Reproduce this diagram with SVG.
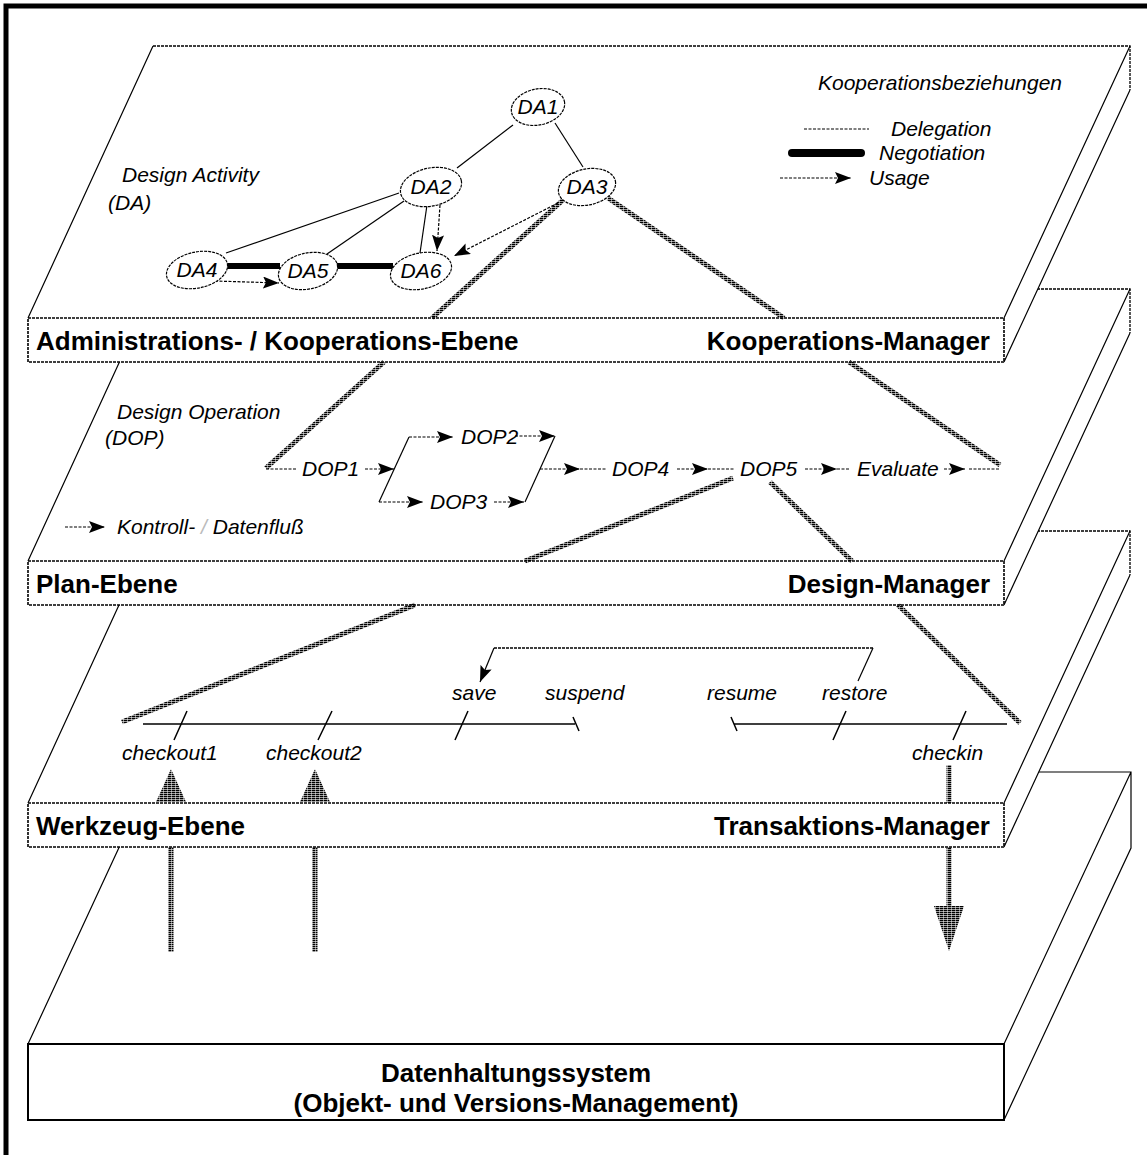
<svg xmlns="http://www.w3.org/2000/svg" width="1147" height="1155" viewBox="0 0 1147 1155">
<style>
.face{fill:#fff;stroke:none}
.dash{fill:none;stroke:#000;stroke-width:1.3;stroke-dasharray:3 1}
.edge{fill:none;stroke:#000;stroke-width:1.2}
.box{fill:#fff;stroke:#000;stroke-width:1.6;stroke-dasharray:3 1}
.sbox{fill:#fff;stroke:#000;stroke-width:2}
.lbl{font-family:"Liberation Sans",Arial,sans-serif;font-weight:bold;font-size:26px;fill:#000}
.it{font-family:"Liberation Sans",Arial,sans-serif;font-style:italic;font-size:21px;fill:#000}
.node{fill:#fff;stroke:#000;stroke-width:1.2;stroke-dasharray:3 1}
.del{fill:none;stroke:#000;stroke-width:1.2}
.use{fill:none;stroke:#000;stroke-width:1.2;stroke-dasharray:3 1.5}
.neg{fill:none;stroke:#000;stroke-width:6}
.hat{fill:none;stroke:url(#hatch);stroke-width:5}
.tl{fill:none;stroke:#000;stroke-width:1.5}
.arr{marker-end:url(#ah)}
</style>
<defs>
<pattern id="hatch" patternUnits="userSpaceOnUse" width="4" height="2">
<rect x="0" y="0" width="3.5" height="1.4" fill="#000"/>
</pattern>
<marker id="ah" markerUnits="userSpaceOnUse" markerWidth="17" markerHeight="12" refX="16" refY="6" orient="auto">
<path d="M0,0 L16,6 L0,12 L3,6 z" fill="#000"/>
</marker>
</defs>

<path d="M6,1155 V6 H1147" fill="none" stroke="#000" stroke-width="5"/>

<!-- Layer 4 -->
<g id="layer-datenhaltung">
<polygon class="face" points="154,772 1131,772 1004,1044 28,1044"/>
<polygon class="face" points="1004,1044 1131,772 1131,848 1004,1120"/>
<path class="edge" d="M154,772 H1131 V848 L1004,1120 M1004,1044 L1131,772 M154,772 L28,1044"/>
<rect class="sbox" x="28" y="1044" width="976" height="76"/>
<text class="lbl" x="516" y="1082" text-anchor="middle">Datenhaltungssystem</text>
<text class="lbl" x="516" y="1112" text-anchor="middle">(Objekt- und Versions-Management)</text>
</g>

<!-- Layer 3 -->
<g id="layer-werkzeug">
<polygon class="face" points="153,531 1130,531 1004,803 28,803"/>
<polygon class="face" points="1004,803 1130,531 1130,575 1004,847"/>
<path class="dash" d="M153,531 H1130 V575"/>
<path class="edge" d="M153,531 L28,803 M1004,803 L1130,531 M1004,847 L1130,575"/>
<rect class="box" x="28" y="803" width="976" height="44"/>
<text class="lbl" x="36" y="835">Werkzeug-Ebene</text>
<text class="lbl" x="990" y="835" text-anchor="end">Transaktions-Manager</text>
</g>

<!-- Layer 2 -->
<g id="layer-plan">
<polygon class="face" points="153,289 1130,289 1004,561 28,561"/>
<polygon class="face" points="1004,561 1130,289 1130,333 1004,605"/>
<path class="dash" d="M153,289 H1130 V333"/>
<path class="edge" d="M153,289 L28,561 M1004,561 L1130,289 M1004,605 L1130,333"/>
<rect class="box" x="28" y="561" width="976" height="44"/>
<text class="lbl" x="36" y="593">Plan-Ebene</text>
<text class="lbl" x="990" y="593" text-anchor="end">Design-Manager</text>
</g>

<!-- Layer 1 -->
<g id="layer-admin">
<polygon class="face" points="153,46 1130,46 1004,318 28,318"/>
<polygon class="face" points="1004,318 1130,46 1130,90 1004,362"/>
<path class="dash" d="M153,46 H1130 V90"/>
<path class="edge" d="M153,46 L28,318 M1004,318 L1130,46 M1004,362 L1130,90"/>
<rect class="box" x="28" y="318" width="976" height="44"/>
<text class="lbl" x="36" y="350">Administrations- / Kooperations-Ebene</text>
<text class="lbl" x="990" y="350" text-anchor="end">Kooperations-Manager</text>
</g>

<!-- Texts on faces -->
<g id="face-texts">
<text class="it" x="122" y="182">Design Activity</text>
<text class="it" x="108" y="210">(DA)</text>
<text class="it" x="818" y="90">Kooperationsbeziehungen</text>
<text class="it" x="117" y="419">Design Operation</text>
<text class="it" x="105" y="445">(DOP)</text>
<text class="it" x="117" y="534">Kontroll- <tspan fill="#bbb">/</tspan> Datenfluß</text>
</g>

<!-- Legend -->
<g id="legend">
<line class="use" x1="804" y1="129" x2="869" y2="129"/>
<text class="it" x="891" y="136">Delegation</text>
<line x1="792" y1="153" x2="861" y2="153" stroke="#000" stroke-width="8" stroke-linecap="round"/>
<text class="it" x="879" y="160">Negotiation</text>
<line class="use arr" x1="780" y1="178" x2="851" y2="178"/>
<text class="it" x="869" y="185">Usage</text>
<line class="use arr" x1="65" y1="527" x2="105" y2="527"/>
</g>

<!-- Connectors -->
<g id="connectors">
<!-- DA relations -->
<line class="del" x1="513" y1="125" x2="457" y2="168"/>
<line class="del" x1="555" y1="123" x2="583" y2="167"/>
<line class="del" x1="399" y1="193" x2="226" y2="253"/>
<line class="del" x1="404" y1="201" x2="327" y2="254"/>
<line class="del" x1="427" y1="205" x2="420" y2="253"/>
<line class="use arr" x1="440" y1="205" x2="437" y2="251"/>
<line class="use arr" x1="558" y1="203" x2="454" y2="256"/>
<line class="use arr" x1="215" y1="281" x2="279" y2="283"/>
<line class="neg" x1="226" y1="266" x2="280" y2="266"/>
<line class="neg" x1="336" y1="266" x2="393" y2="266"/>

<!-- hatched refinement connectors -->
<line class="hat" x1="563" y1="200" x2="432" y2="318"/>
<line class="hat" x1="384" y1="362" x2="266" y2="468"/>
<line class="hat" x1="608" y1="198" x2="784" y2="318"/>
<line class="hat" x1="849" y1="362" x2="1000" y2="465"/>
<line class="hat" x1="733" y1="478" x2="525" y2="561"/>
<line class="hat" x1="415" y1="605" x2="122" y2="722"/>
<line class="hat" x1="770" y1="482" x2="852" y2="561"/>
<line class="hat" x1="898" y1="605" x2="1020" y2="723"/>

<!-- DOP flow -->
<line class="use" x1="266" y1="469" x2="296" y2="469"/>
<line class="use arr" x1="365" y1="469" x2="394" y2="469"/>
<path class="del" d="M409,437 L379,502"/>
<line class="use arr" x1="409" y1="437" x2="453" y2="437"/>
<line class="use arr" x1="515" y1="436" x2="555" y2="436"/>
<line class="use arr" x1="379" y1="502" x2="423" y2="502"/>
<line class="use arr" x1="494" y1="502" x2="524" y2="502"/>
<path class="del" d="M555,436 L525,502"/>
<line class="use arr" x1="540" y1="469" x2="580" y2="469"/>
<line class="use" x1="580" y1="469" x2="607" y2="469"/>
<line class="use arr" x1="677" y1="469" x2="708" y2="469"/>
<line class="use" x1="708" y1="469" x2="735" y2="469"/>
<line class="use arr" x1="805" y1="469" x2="837" y2="469"/>
<line class="use" x1="837" y1="469" x2="850" y2="469"/>
<line class="use arr" x1="944" y1="469" x2="965" y2="469"/>
<line class="use" x1="969" y1="469" x2="1000" y2="469"/>

<!-- timelines -->
<path class="tl" d="M143,724 H575 M573,717 L579,731"/>
<path class="tl" d="M734,724 H1007 M731,717 L737,731"/>
<path class="tl" d="M187,711 L174,740 M332,711 L318,740 M468,711 L455,740 M846,711 L833,740 M966,711 L953,740"/>
<path class="del" d="M858,681 L873,648"/>
<path class="dash" d="M873,648 H494"/>
<line class="del arr" x1="494" y1="648" x2="480" y2="682"/>

<!-- checkout / checkin -->
<polygon points="171,769 186,802 156,802" fill="url(#hatch)"/>
<polygon points="315,769 330,802 300,802" fill="url(#hatch)"/>
<line class="hat" x1="171" y1="847" x2="171" y2="952"/>
<line class="hat" x1="315" y1="847" x2="315" y2="952"/>
<line class="hat" x1="949" y1="765" x2="949" y2="803"/>
<line class="hat" x1="949" y1="847" x2="949" y2="906"/>
<polygon points="934,906 964,906 949,951" fill="url(#hatch)"/>
</g>

<!-- Design activity nodes -->
<g id="DA1"><ellipse class="node" cx="538" cy="107" rx="27" ry="18" transform="rotate(-12 538 107)"/><text class="it" x="538" y="114" text-anchor="middle">DA1</text></g>
<g id="DA2"><ellipse class="node" cx="431" cy="187" rx="31" ry="19" transform="rotate(-12 431 187)"/><text class="it" x="431" y="194" text-anchor="middle">DA2</text></g>
<g id="DA3"><ellipse class="node" cx="587" cy="187" rx="29" ry="18" transform="rotate(-12 587 187)"/><text class="it" x="587" y="194" text-anchor="middle">DA3</text></g>
<g id="DA4"><ellipse class="node" cx="197" cy="270" rx="31" ry="18" transform="rotate(-12 197 270)"/><text class="it" x="197" y="277" text-anchor="middle">DA4</text></g>
<g id="DA5"><ellipse class="node" cx="308" cy="271" rx="30" ry="18" transform="rotate(-12 308 271)"/><text class="it" x="308" y="278" text-anchor="middle">DA5</text></g>
<g id="DA6"><ellipse class="node" cx="421" cy="271" rx="31" ry="18" transform="rotate(-12 421 271)"/><text class="it" x="421" y="278" text-anchor="middle">DA6</text></g>

<!-- Design operation nodes -->
<g id="DOP1"><text class="it" x="302" y="476">DOP1</text></g>
<g id="DOP2"><text class="it" x="461" y="444">DOP2</text></g>
<g id="DOP3"><text class="it" x="430" y="509">DOP3</text></g>
<g id="DOP4"><text class="it" x="612" y="476">DOP4</text></g>
<g id="DOP5"><text class="it" x="740" y="476">DOP5</text></g>
<g id="Evaluate"><text class="it" x="857" y="476">Evaluate</text></g>

<!-- Transaction operations -->
<g id="op-checkout1"><text class="it" x="122" y="760">checkout1</text></g>
<g id="op-checkout2"><text class="it" x="266" y="760">checkout2</text></g>
<g id="op-save"><text class="it" x="452" y="700">save</text></g>
<g id="op-suspend"><text class="it" x="545" y="700">suspend</text></g>
<g id="op-resume"><text class="it" x="707" y="700">resume</text></g>
<g id="op-restore"><text class="it" x="822" y="700">restore</text></g>
<g id="op-checkin"><text class="it" x="912" y="760">checkin</text></g>
</svg>
